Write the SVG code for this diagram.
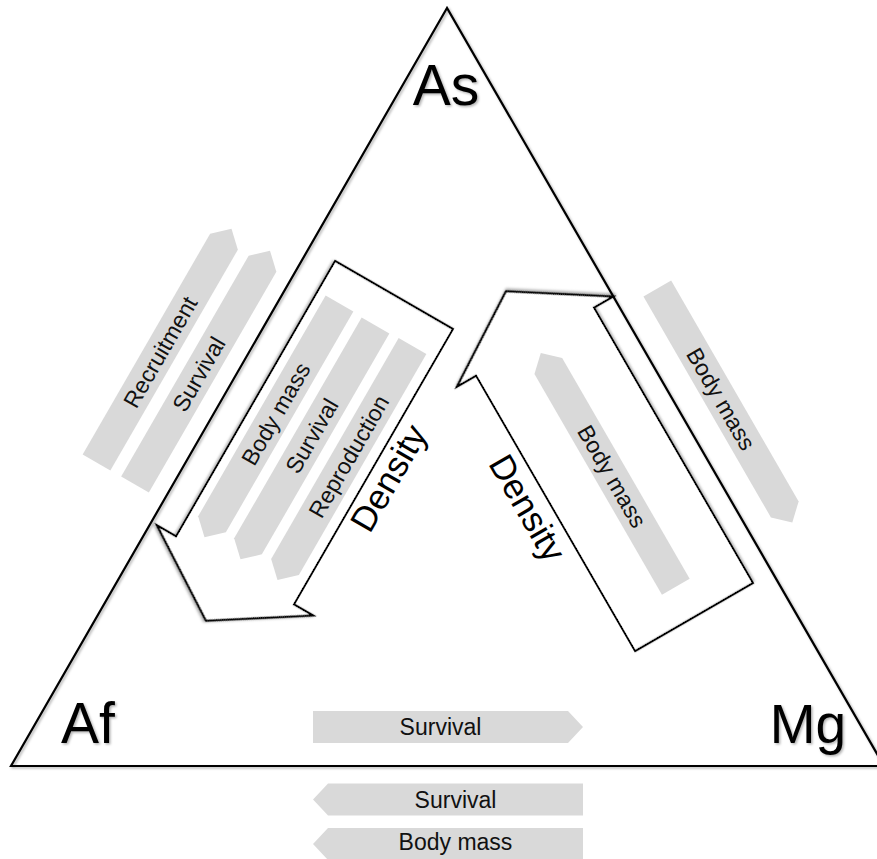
<svg xmlns="http://www.w3.org/2000/svg" xmlns:xlink="http://www.w3.org/1999/xlink" width="877" height="859" viewBox="0 0 877 859">
<defs>
<style>
.gray{fill:#d9d9d9;stroke:none}
.lbl{font-family:"Liberation Sans",Arial,sans-serif;font-size:23px;fill:#111;text-anchor:middle}
.den{font-family:"Liberation Sans",Arial,sans-serif;font-size:35px;fill:#000;text-anchor:middle}
.big{font-family:"Liberation Sans",Arial,sans-serif;font-size:57px;fill:#000}
.outline{fill:#fff;stroke:#000;stroke-width:2.2;stroke-linejoin:miter}
.tri{fill:none;stroke:#000;stroke-width:2.2}
</style>
<filter id="sh" x="-10%" y="-10%" width="120%" height="120%">
<feDropShadow dx="1.5" dy="1.5" stdDeviation="1" flood-color="#000" flood-opacity="0.3"/>
</filter>
<path id="ga" d="M-135,-16 H120 L135,0 L120,16 H-135 Z"/>
<path id="da" d="M0,-68 H318 V-90 L376,0 L318,90 V68 H0 Z"/>
</defs>

<g id="triangle" filter="url(#sh)">
<polygon class="tri" points="447,8 11,766 884,766"/>
</g>

<g id="connectors">
<g id="out-left-recruitment">
<use href="#ga" class="gray" transform="translate(164,345.6) rotate(-60)"/>
<text class="lbl" transform="translate(160.3,352.1) rotate(-60)" dy="0.35em">Recruitment</text>
</g>
<g id="out-left-survival">
<use href="#ga" class="gray" transform="translate(202.5,367.6) rotate(-60)"/>
<text class="lbl" transform="translate(198.8,374.1) rotate(-60)" dy="0.35em">Survival</text>
</g>
<g id="out-right-bodymass">
<use href="#ga" class="gray" transform="translate(724.8,405.5) rotate(60)"/>
<text class="lbl" transform="translate(721,399) rotate(60)" dy="0.35em">Body mass</text>
</g>
<g id="bottom-in-survival">
<use href="#ga" class="gray" transform="translate(448,727)"/>
<text class="lbl" x="440.5" y="727" dy="0.35em">Survival</text>
</g>
<g id="bottom-out-survival">
<use href="#ga" class="gray" transform="translate(448,799.5) rotate(180)"/>
<text class="lbl" x="455.5" y="799.5" dy="0.35em">Survival</text>
</g>
<g id="bottom-out-bodymass">
<use href="#ga" class="gray" transform="translate(448,844) rotate(180)"/>
<text class="lbl" x="455.5" y="842" dy="0.35em">Body mass</text>
</g>

<g id="density-left">
<use href="#da" class="outline" filter="url(#sh)" transform="translate(394,295) rotate(120)"/>
<use href="#ga" class="gray" transform="translate(272,420.4) rotate(120)"/>
<text class="lbl" transform="translate(275.8,413.9) rotate(-60)" dy="0.35em">Body mass</text>
<use href="#ga" class="gray" transform="translate(308,442.4) rotate(120)"/>
<text class="lbl" transform="translate(311.8,435.9) rotate(-60)" dy="0.35em">Survival</text>
<use href="#ga" class="gray" transform="translate(345,463) rotate(120)"/>
<text class="lbl" transform="translate(348.8,456.5) rotate(-60)" dy="0.35em">Reproduction</text>
<text class="den" transform="translate(399,484) rotate(-60)">Density</text>
</g>

<g id="density-right">
<use href="#da" class="outline" filter="url(#sh)" transform="translate(694,617) rotate(-120)"/>
<use href="#ga" class="gray" transform="translate(608.3,469.8) rotate(-120)"/>
<text class="lbl" transform="translate(612,476.3) rotate(60)" dy="0.35em">Body mass</text>
<text class="den" transform="translate(517,514) rotate(60)">Density</text>
</g>
</g>

<g id="node-As" filter="url(#sh)">
<text class="big" x="446" y="105" text-anchor="middle">As</text>
</g>
<g id="node-Af" filter="url(#sh)">
<text class="big" x="61" y="743">Af</text>
</g>
<g id="node-Mg" filter="url(#sh)">
<text class="big" x="808" y="743" text-anchor="middle" style="font-size:55px">Mg</text>
</g>
</svg>
